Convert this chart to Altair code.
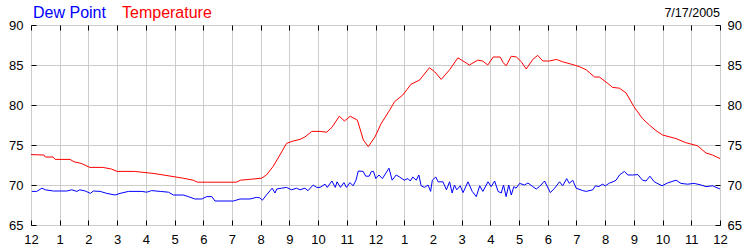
import json
import altair as alt
import pandas as pd

# ---- data ----
SERIES = ["Dew Point", "Temperature"]
COLORS = ["#0000ff", "#ff0000"]
DATE_LABEL = "7/17/2005"
HOUR_TICKS = list(range(25))
HOUR_LABELS = ["12", "1", "2", "3", "4", "5", "6", "7", "8", "9", "10", "11",
               "12", "1", "2", "3", "4", "5", "6", "7", "8", "9", "10", "11", "12"]
TEMP_TICKS = [65, 70, 75, 80, 85, 90]

TEMP_HOURS = [0.0, 0.45, 0.5, 0.77, 0.84, 1.36, 1.5, 1.75, 2.05, 2.5, 2.8, 3.0, 3.6,
              4.25, 4.7, 5.3, 5.65, 5.8, 7.15, 7.3, 7.6, 8.03, 8.2, 8.43, 8.67, 8.9,
              9.13, 9.37, 9.54, 9.78, 10.07, 10.3, 10.48, 10.74, 10.92, 11.12, 11.37,
              11.58, 11.75, 11.98, 12.2, 12.5, 12.66, 12.95, 13.24, 13.53, 13.88, 14.06,
              14.29, 14.58, 14.87, 15.27, 15.56, 15.73, 15.91, 16.1, 16.34, 16.45, 16.55,
              16.73, 16.91, 17.08, 17.25, 17.48, 17.65, 17.83, 18.06, 18.3, 18.52, 18.82,
              19.1, 19.34, 19.63, 19.8, 20.09, 20.26, 20.5, 20.73, 21.0, 21.3, 21.54,
              21.77, 22.0, 22.47, 22.8, 23.22, 23.51, 23.74, 24.0]
TEMP_VALUES = [73.8, 73.75, 73.5, 73.5, 73.2, 73.2, 72.9, 72.7, 72.2, 72.2, 72.0, 71.7, 71.7,
               71.45, 71.2, 70.85, 70.6, 70.35, 70.35, 70.6, 70.7, 70.85, 71.25, 72.3, 73.75, 75.2,
               75.5, 75.7, 76.0, 76.7, 76.7, 76.6, 77.2, 78.6, 78.0, 78.6, 78.1,
               75.6, 74.8, 76.0, 77.7, 79.4, 80.4, 81.25, 82.6, 83.1, 84.66, 84.16,
               83.2, 84.4, 85.9, 85.0, 85.6, 85.5, 85.0, 86.0, 86.0, 85.3, 84.9,
               86.1, 86.0, 85.4, 84.5, 85.7, 86.2, 85.5, 85.5, 85.7, 85.4, 85.1,
               84.8, 84.4, 83.5, 83.5, 82.7, 82.2, 82.1, 81.5, 79.8, 78.3, 77.5,
               76.8, 76.25, 75.8, 75.3, 74.9, 74.0, 73.75, 73.3]

DEW_HOURS = [0.03, 0.2, 0.38, 0.5, 0.78, 1.25, 1.42, 1.6, 1.7, 1.89, 2.07, 2.17, 2.41, 2.64,
             2.93, 3.1, 3.4, 3.86, 4.03, 4.2, 4.5, 4.79, 4.96, 5.3, 5.48, 5.71, 5.95, 6.12,
             6.3, 6.41, 7.05, 7.28, 7.63, 7.85, 7.97, 8.06, 8.2, 8.33, 8.4, 8.5, 8.56, 8.73,
             8.9, 9.08, 9.25, 9.37, 9.54, 9.65, 9.83, 9.95, 10.07, 10.24, 10.32, 10.48, 10.6,
             10.66, 10.78, 10.9, 10.99, 11.11, 11.22, 11.32, 11.4, 11.57, 11.66, 11.78, 11.86,
             11.93, 12.01, 12.12, 12.24, 12.32, 12.47, 12.58, 12.72, 12.84, 13.0, 13.13, 13.21,
             13.3, 13.42, 13.51, 13.59, 13.71, 13.83, 13.92, 13.98, 14.1, 14.18, 14.35, 14.47,
             14.58, 14.67, 14.75, 14.83, 14.95, 15.05, 15.22, 15.37, 15.51, 15.63, 15.74, 15.92,
             16.03, 16.15, 16.27, 16.38, 16.46, 16.55, 16.64, 16.73, 16.82, 16.9, 17.02, 17.19,
             17.31, 17.48, 17.6, 17.71, 17.89, 18.09, 18.24, 18.41, 18.52, 18.66, 18.75, 18.87,
             18.99, 19.22, 19.34, 19.57, 19.66, 19.78, 19.9, 20.01, 20.15, 20.27, 20.38, 20.5,
             20.67, 20.79, 20.96, 21.14, 21.3, 21.42, 21.56, 21.71, 21.98, 22.17, 22.47, 22.64,
             22.87, 23.1, 23.34, 23.51, 23.74, 24.0]
DEW_VALUES = [69.2, 69.2, 69.6, 69.4, 69.25, 69.25, 69.4, 69.2, 69.4, 69.25, 68.95, 69.25, 69.2, 68.95,
              68.75, 68.95, 69.2, 69.2, 69.1, 69.3, 69.2, 69.1, 68.75, 68.75, 68.55, 68.25, 68.25, 68.55,
              68.55, 68.0, 68.0, 68.25, 68.25, 68.45, 68.4, 68.1, 68.75, 69.3, 69.6, 69.0, 69.5, 69.6,
              69.7, 69.4, 69.6, 69.4, 69.6, 69.3, 70.0, 69.7, 69.7, 70.1, 69.7, 70.5, 69.7,
              70.4, 69.7, 70.3, 69.7, 70.3, 69.9, 70.6, 71.75, 71.7, 71.1, 71.1, 71.7,
              71.7, 70.8, 71.25, 70.8, 71.25, 72.1, 70.6, 71.25, 71.0, 70.6, 70.8, 70.5,
              71.0, 70.6, 71.25, 69.9, 69.7, 70.0, 69.2, 70.6, 71.0, 70.4, 70.4, 69.4,
              70.4, 69.0, 70.0, 69.4, 69.9, 69.05, 70.4, 69.2, 68.55, 69.9, 69.2, 70.4,
              69.8, 70.5, 69.2, 69.0, 70.0, 68.55, 70.0, 68.75, 69.8, 69.6, 70.2, 70.0,
              70.25, 69.8, 69.5, 69.8, 70.5, 69.05, 69.6, 70.4, 69.9, 70.8, 70.2, 70.6,
              69.6, 69.3, 69.2, 69.4, 69.9, 69.8, 70.1, 69.9, 70.25, 70.4, 70.6, 71.25,
              71.7, 71.25, 71.25, 71.3, 70.6, 70.5, 71.1, 70.4, 69.9, 70.25, 70.6, 70.2,
              70.1, 70.2, 70.0, 69.8, 69.9, 69.5]

df = pd.concat([
    pd.DataFrame({"hour": DEW_HOURS, "value": DEW_VALUES, "series": SERIES[0]}),
    pd.DataFrame({"hour": TEMP_HOURS, "value": TEMP_VALUES, "series": SERIES[1]}),
], ignore_index=True)

FONT = "Liberation Sans"
label_expr = f"{json.dumps(HOUR_LABELS)}[datum.value]"
legend_color = (f"datum.label == '{SERIES[0]}' ? '{COLORS[0]}' : '{COLORS[1]}'")

x_scale = alt.Scale(domain=[0, 24], nice=False, zero=False)
y_scale = alt.Scale(domain=[65, 90], nice=False, zero=False)

lines = alt.Chart(df).mark_line(strokeWidth=1).encode(
    x=alt.X("hour:Q", scale=x_scale, axis=alt.Axis(
        orient="bottom", values=HOUR_TICKS, labelExpr=label_expr, title=None,
        grid=True, gridColor="#cccccc", gridWidth=1, domain=False,
        ticks=True, tickSize=5, tickColor="black", offset=-5,
        labelPadding=8, labelFlush=False, labelOverlap=False,
        labelFont=FONT, labelFontSize=13, labelColor="black")),
    y=alt.Y("value:Q", scale=y_scale, axis=alt.Axis(
        orient="left", values=TEMP_TICKS, title=None,
        grid=True, gridColor="#cccccc", gridWidth=1, domain=False,
        ticks=True, tickSize=5, tickColor="black", offset=-5,
        labelPadding=8, labelFlush=False, labelOverlap=False,
        labelFont=FONT, labelFontSize=13, labelColor="black")),
    color=alt.Color("series:N", scale=alt.Scale(domain=SERIES, range=COLORS),
                    legend=alt.Legend(
                        orient="none", legendX=-14, legendY=-20, direction="horizontal",
                        title=None, symbolSize=0, symbolStrokeWidth=0, symbolOpacity=0,
                        labelOffset=0, columnPadding=0, padding=0,
                        labelFont=FONT, labelFontSize=16,
                        labelColor=alt.ExprRef(legend_color))),
)

frame_axes = alt.Chart(df).mark_line(opacity=0).encode(
    x=alt.X("hour:Q", scale=x_scale, axis=alt.Axis(
        orient="top", values=HOUR_TICKS, title=None, labels=False, grid=False,
        domain=False, ticks=True, tickSize=5, tickColor="black", offset=-5)),
    y=alt.Y("value:Q", scale=y_scale, axis=alt.Axis(
        orient="right", values=TEMP_TICKS, title=None, grid=False, domain=False,
        ticks=True, tickSize=5, tickColor="black", offset=-5,
        labelPadding=7, labelFlush=False, labelOverlap=False,
        labelFont=FONT, labelFontSize=13, labelColor="black")),
    detail="series:N",
)

chart = alt.layer(frame_axes, lines).resolve_axis(
    x="independent", y="independent"
).properties(
    width=689, height=200,
    autosize=alt.AutoSizeParams(type="none"),
    padding={"left": 31, "top": 25, "right": 30, "bottom": 25},
    background="white",
    title=alt.TitleParams(DATE_LABEL, anchor="end", frame="group", orient="top",
                          font=FONT, fontSize=12.5, fontWeight="normal",
                          color="black", baseline="alphabetic", offset=-24),
).configure_view(stroke="black", strokeWidth=1)

chart.save("out.html", embed_options={"renderer": "svg", "actions": False})
